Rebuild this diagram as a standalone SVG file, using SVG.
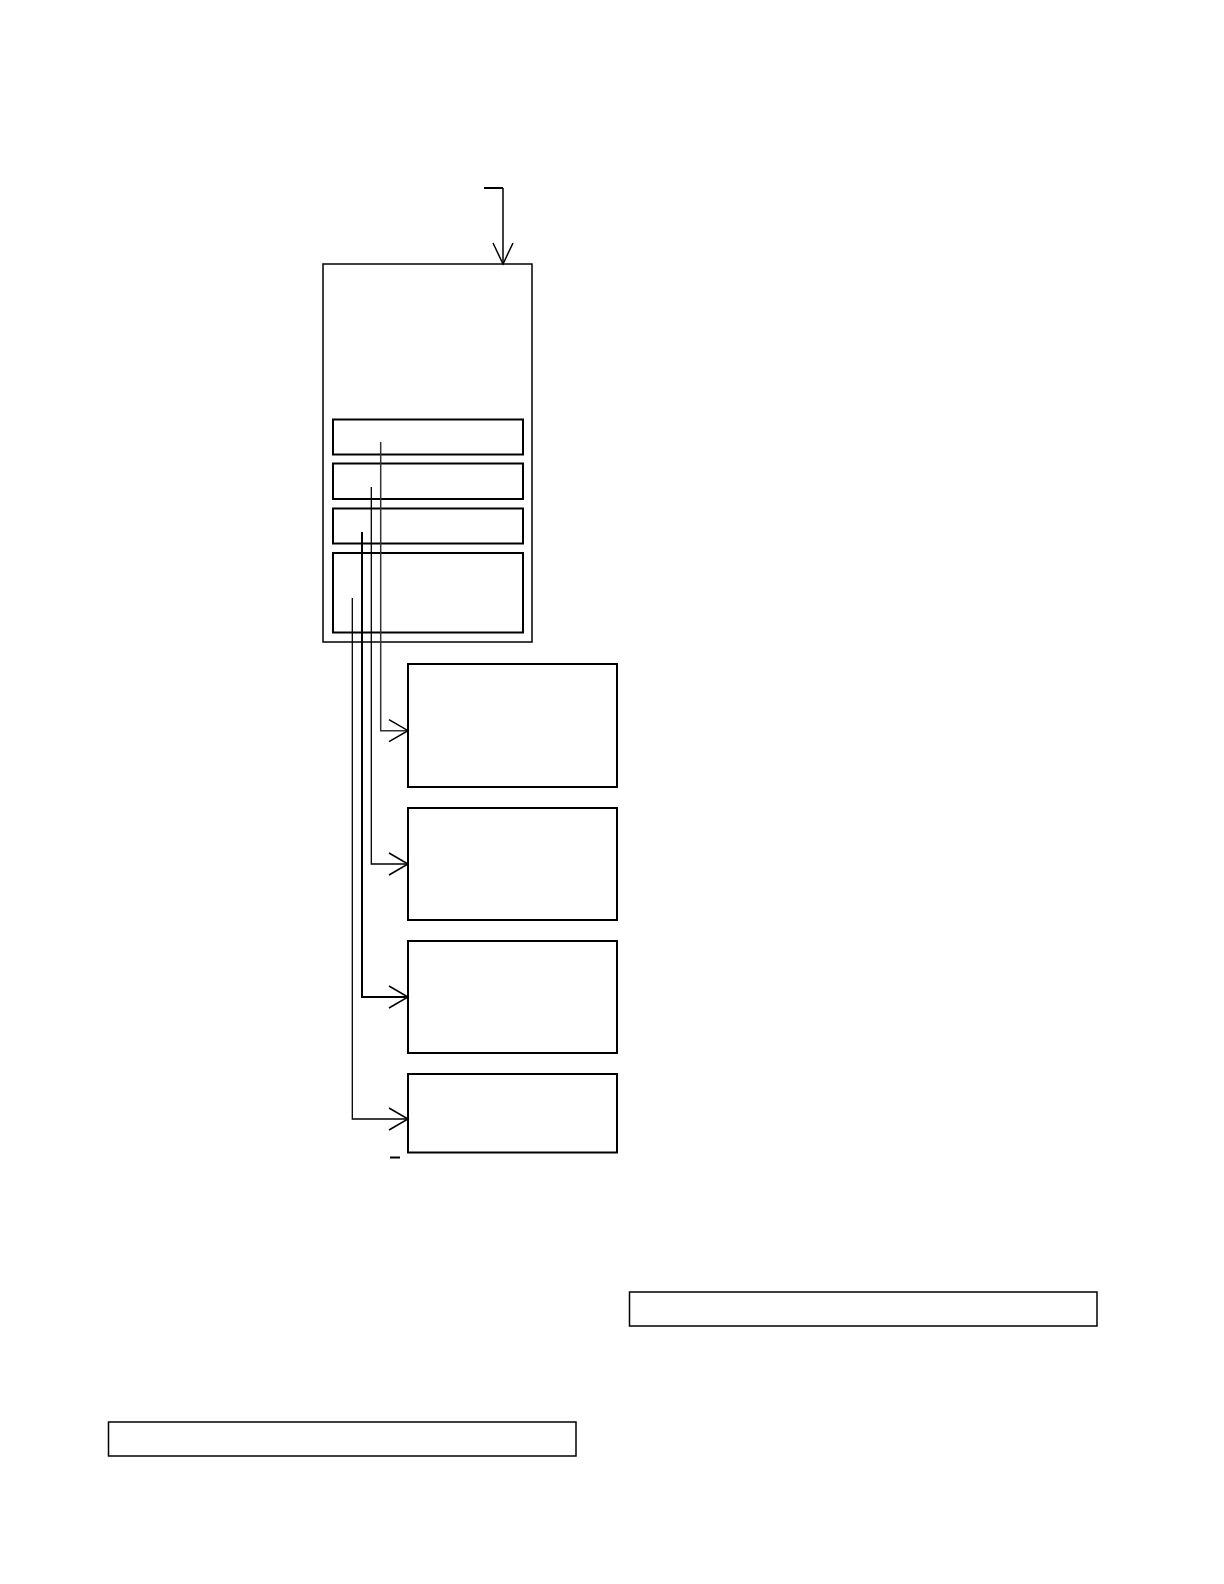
<svg xmlns="http://www.w3.org/2000/svg" width="1224" height="1584" viewBox="0 0 1224 1584">
<style>
.thin{fill:none;stroke:#000;stroke-width:1.5}
.box{fill:none;stroke:#000;stroke-width:2}
.conn{fill:none;stroke:#000;stroke-width:1.3}
.connb{fill:none;stroke:#000;stroke-width:2}
.grey{fill:none;stroke:#333;stroke-width:1.5}
</style>
<defs>
<marker id="arr" markerWidth="22" markerHeight="26" refX="20" refY="12" orient="auto" markerUnits="userSpaceOnUse">
<path d="M1,1 L20,12 L1,23" fill="none" stroke="#000" stroke-width="1.5"/>
</marker>
<marker id="arrIn" markerWidth="24" markerHeight="26" refX="22" refY="12" orient="auto" markerUnits="userSpaceOnUse">
<path d="M1,2 L22,12 L1,22" fill="none" stroke="#000" stroke-width="1.5"/>
</marker>
</defs>
<rect width="1224" height="1584" fill="#fff"/>
<g id="outer"><rect class="thin" x="323" y="264" width="209" height="378"/></g>
<g id="slot1"><rect class="box" x="333" y="419.5" width="190" height="35"/></g>
<g id="slot2"><rect class="box" x="333" y="463.5" width="190" height="35.5"/></g>
<g id="slot3"><rect class="box" x="333" y="508.5" width="190" height="35"/></g>
<g id="slot4"><rect class="box" x="333" y="553" width="190" height="79.5"/></g>
<g id="target1"><rect class="box" x="408" y="664" width="209" height="123"/></g>
<g id="target2"><rect class="box" x="408" y="808" width="209" height="112"/></g>
<g id="target3"><rect class="box" x="408" y="941" width="209" height="112"/></g>
<g id="target4"><rect class="box" x="408" y="1074" width="209" height="78.5"/></g>
<g id="bar1"><rect class="thin" x="629.5" y="1292" width="467.5" height="34"/></g>
<g id="bar2"><rect class="thin" x="108.5" y="1422" width="467.5" height="34"/></g>
<g id="connectors">
<path class="connb" d="M484,188 L503,188"/>
<path class="thin" d="M503,188 L503,264" marker-end="url(#arrIn)"/>
<path class="grey" d="M380.7,442 L380.7,730.7 L408,730.7" marker-end="url(#arr)"/>
<path class="conn" d="M371.3,487 L371.3,864 L408,864" marker-end="url(#arr)"/>
<path class="connb" d="M362,532 L362,997 L408,997" marker-end="url(#arr)"/>
<path class="conn" d="M352.3,598 L352.3,1119 L408,1119" marker-end="url(#arr)"/>
<path class="connb" d="M390,1157.5 L400,1157.5"/>
</g>
</svg>
